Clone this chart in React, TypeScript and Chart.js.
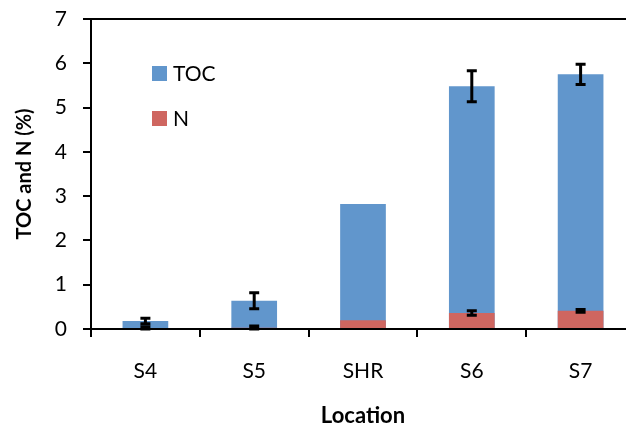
import React, { useEffect, useRef } from "react";
import { Chart, registerables } from "chart.js";

Chart.register(...registerables);

const categories = ["S4", "S5", "SHR", "S6", "S7"];
const tocValues = [0.18, 0.64, 2.82, 5.48, 5.75];
const tocErrors = [0.06, 0.18, 0, 0.35, 0.23];
const nValues = [0.02, 0.03, 0.2, 0.36, 0.41];
const nErrors = [0.03, 0.04, 0, 0.05, 0.03];
const seriesLabels = ["TOC", "N"];
const seriesColors = ["#6196CC", "#CF6660"];
const yMin = 0;
const yMax = 7;
const yStep = 1;

const FONT = "Lato, 'Open Sans', sans-serif";

const errorBarPlugin = {
  id: "errorBars",
  afterDatasetsDraw(chart: any) {
    const ctx = chart.ctx;
    const yScale = chart.scales.y;
    chart.data.datasets.forEach((ds: any, di: number) => {
      const errs: number[] | undefined = ds.errors;
      if (!errs) return;
      const meta = chart.getDatasetMeta(di);
      meta.data.forEach((bar: any, i: number) => {
        const e = errs[i];
        if (!e) return;
        const v = ds.data[i];
        const x = bar.x;
        const yt = yScale.getPixelForValue(v + e);
        const yb = yScale.getPixelForValue(Math.max(0, v - e));
        ctx.save();
        ctx.strokeStyle = "#000";
        ctx.lineWidth = 3;
        ctx.beginPath();
        ctx.moveTo(x, yt);
        ctx.lineTo(x, yb);
        ctx.moveTo(x - 5, yt);
        ctx.lineTo(x + 5, yt);
        ctx.moveTo(x - 5, yb);
        ctx.lineTo(x + 5, yb);
        ctx.stroke();
        ctx.restore();
      });
    });
  },
};

const insideLegendPlugin = {
  id: "insideLegend",
  afterDraw(chart: any) {
    const ctx = chart.ctx;
    const area = chart.chartArea;
    const x0 = area.left + 61;
    let y0 = area.top + 47;
    ctx.save();
    chart.data.datasets.forEach((ds: any) => {
      ctx.fillStyle = ds.backgroundColor;
      ctx.fillRect(x0, y0, 15, 15);
      ctx.fillStyle = "#000";
      ctx.font = `21px ${FONT}`;
      ctx.textBaseline = "middle";
      ctx.textAlign = "left";
      ctx.fillText(ds.label, x0 + 21, y0 + 8);
      y0 += 45;
    });
    ctx.restore();
  },
};

export default function App() {
  const ref = useRef<HTMLCanvasElement | null>(null);

  useEffect(() => {
    if (!ref.current) return;
    const chart = new Chart(ref.current, {
      type: "bar",
      data: {
        labels: categories,
        datasets: [
          {
            label: seriesLabels[0],
            data: tocValues,
            backgroundColor: seriesColors[0],
            grouped: false,
            order: 1,
            errors: tocErrors,
          } as any,
          {
            label: seriesLabels[1],
            data: nValues,
            backgroundColor: seriesColors[1],
            grouped: false,
            order: 0,
            errors: nErrors,
          } as any,
        ],
      },
      options: {
        animation: false,
        responsive: false,
        layout: { padding: { left: 0, right: 10, top: 19, bottom: 0 } },
        datasets: { bar: { categoryPercentage: 1, barPercentage: 0.42 } },
        plugins: { legend: { display: false }, tooltip: { enabled: false } },
        scales: {
          x: {
            afterFit: (s: any) => {
              s.height = 100;
            },
            grid: {
              display: true,
              drawOnChartArea: false,
              offset: true,
              tickLength: 8,
              tickColor: "#000",
              tickWidth: 2,
              color: "#000",
              lineWidth: 2,
            },
            border: { display: true, color: "#000", width: 2 },
            ticks: { color: "#000", padding: 22, font: { family: FONT, size: 21 } },
            title: {
              display: true,
              text: "Location",
              color: "#000",
              font: { family: FONT, size: 22, weight: "bold" },
              padding: { top: 0, bottom: 0 },
            },
          },
          y: {
            min: yMin,
            max: yMax,
            afterFit: (s: any) => {
              s.width = 91;
              s.paddingTop = 0;
              s.paddingBottom = 0;
            },
            grid: {
              drawOnChartArea: true,
              color: (c: any) => (c.tick && c.tick.value === yMax ? "#000" : "rgba(0,0,0,0)"),
              lineWidth: 2,
              tickLength: 8,
              tickColor: "#000",
              tickWidth: 2,
            },
            border: { display: true, color: "#000", width: 2 },
            ticks: {
              stepSize: yStep,
              color: "#000",
              padding: 16,
              font: { family: FONT, size: 21 },
            },
            title: {
              display: true,
              text: "TOC and N (%)",
              color: "#000",
              font: { family: FONT, size: 20, weight: "bold" },
              padding: { top: 13, bottom: 0 },
            },
          },
        },
      },
      plugins: [errorBarPlugin, insideLegendPlugin],
    } as any);
    return () => chart.destroy();
  }, []);

  return (
    <div style={{ position: "fixed", left: 0, top: 0, width: 645, height: 429, background: "#fff" }}>
      <canvas ref={ref} width={645} height={429} style={{ display: "block" }} />
    </div>
  );
}
